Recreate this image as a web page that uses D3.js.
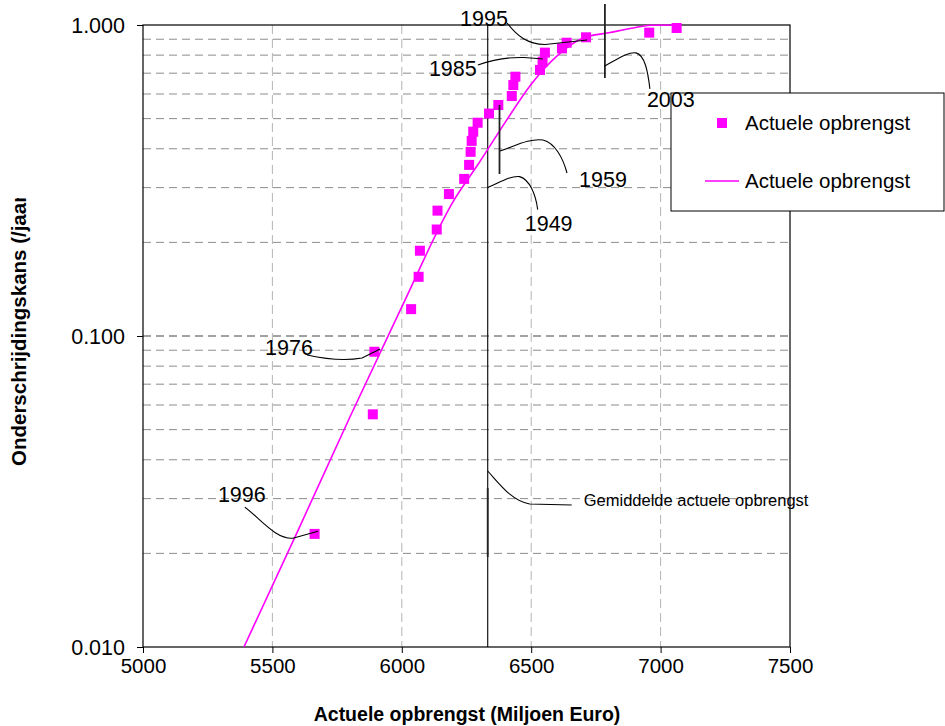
<!DOCTYPE html>
<html><head><meta charset="utf-8">
<script src="https://cdn.jsdelivr.net/npm/d3@7"></script>
<style>
body{margin:0;background:#fff}
svg{display:block}
text{font-family:"Liberation Sans",Arial,Helvetica,sans-serif;fill:#000}
</style>
</head><body>
<svg id="chart" width="945" height="726"></svg>
<script>
// Observed yearly revenue (million euro) and its non-exceedance probability
const opbrengst = [7062, 6956, 6712, 6637, 6619, 6553, 6544, 6534, 6439, 6431, 6425, 6373, 6337, 6293,
                   6276, 6270, 6266, 6260, 6241, 6182, 6138, 6135, 6070, 6065, 6036, 5894, 5888, 5663];
const kans = [0.978, 0.945, 0.913, 0.877, 0.841, 0.815, 0.762, 0.717, 0.682, 0.641, 0.591, 0.553, 0.519, 0.485,
              0.454, 0.424, 0.391, 0.355, 0.320, 0.286, 0.253, 0.220, 0.188, 0.155, 0.122, 0.089, 0.056, 0.0231];
// Fitted distribution curve
const lijnOpbrengst = [5390, 5600, 5800, 6000, 6200, 6300, 6400, 6500, 6600, 6700, 6800, 6900, 6960, 7080];
const lijnKans = [0.0100, 0.0238, 0.0550, 0.124, 0.272, 0.362, 0.487, 0.645, 0.796, 0.909, 0.944, 0.980, 0.998, 1.000];
// Mean revenue
const gemiddelde = 6332;
// Axis ticks
const xTicks = [5000, 5500, 6000, 6500, 7000, 7500];
const yTicks = [0.01, 0.1, 1];
const yTickLabels = ["0.010", "0.100", "1.000"];
const seriesNaam = "Actuele opbrengst";

const svg = d3.select("#chart");
const M = { left: 143, right: 790, top: 25, bottom: 647 };
const x = d3.scaleLinear().domain([5000, 7500]).range([M.left, M.right]);
const y = d3.scaleLog().domain([0.01, 1]).range([M.bottom, M.top]);
const magenta = "#ff00ff";

// minor horizontal gridlines (2..9 per decade)
const minor = [];
for (const dec of [0.01, 0.1]) for (let k = 2; k <= 9; k++) minor.push(dec * k);
const grid = svg.append("g");
grid.selectAll("line.hmin").data(minor).join("line")
  .attr("x1", M.left).attr("x2", M.right)
  .attr("y1", d => y(d)).attr("y2", d => y(d))
  .attr("stroke", "#8c8c8c").attr("stroke-width", 1).attr("stroke-dasharray", "8,5");
grid.append("line")
  .attr("x1", M.left).attr("x2", M.right).attr("y1", y(0.1)).attr("y2", y(0.1))
  .attr("stroke", "#444").attr("stroke-width", 1).attr("stroke-dasharray", "8,5");
grid.selectAll("line.v").data(xTicks.slice(1, -1)).join("line")
  .attr("x1", d => x(d)).attr("x2", d => x(d)).attr("y1", M.top).attr("y2", M.bottom)
  .attr("stroke", "#b4b4b4").attr("stroke-width", 1).attr("stroke-dasharray", "9,5");

// plot frame
svg.append("rect").attr("x", M.left).attr("y", M.top).attr("width", M.right - M.left).attr("height", M.bottom - M.top)
  .attr("fill", "none").attr("stroke", "#000").attr("stroke-width", 1.2);

// axes
const xAxis = svg.append("g").attr("transform", `translate(0,${M.bottom})`)
  .call(d3.axisBottom(x).tickValues(xTicks).tickSize(6).tickPadding(5).tickFormat(d3.format("d")));
xAxis.select(".domain").remove();
xAxis.selectAll("text").attr("font-size", 20.5).attr("font-family", "Liberation Sans, Arial, sans-serif");
xAxis.selectAll("line").attr("stroke", "#000");

const yAxis = svg.append("g").attr("transform", `translate(${M.left},0)`)
  .call(d3.axisLeft(y).tickValues(yTicks).tickSize(6).tickPadding(12)
        .tickFormat(d => yTickLabels[yTicks.indexOf(d)]));
yAxis.select(".domain").remove();
yAxis.selectAll("text").attr("font-size", 21.5).attr("font-family", "Liberation Sans, Arial, sans-serif")
  .attr("dy", "0.36em");
yAxis.selectAll("line").attr("stroke", "#000");

// axis titles
svg.append("text").attr("x", 467).attr("y", 721).attr("text-anchor", "middle")
  .attr("font-size", 19.5).attr("font-weight", "bold").text("Actuele opbrengst (Miljoen Euro)");
svg.append("clipPath").attr("id", "ytitle-clip").append("rect")
  .attr("x", 0).attr("y", 198).attr("width", 140).attr("height", 528);
svg.append("g").attr("clip-path", "url(#ytitle-clip)")
  .append("text")
  .attr("transform", "translate(26,466) rotate(-90)")
  .attr("font-size", 20.5).attr("font-weight", "bold").text("Onderschrijdingskans (/jaar)");

// mean line
svg.append("line").attr("x1", x(gemiddelde)).attr("x2", x(gemiddelde)).attr("y1", M.top).attr("y2", M.bottom)
  .attr("stroke", "#000").attr("stroke-width", 1.1);

// fitted curve
const lijn = lijnOpbrengst.map((v, i) => [v, lijnKans[i]]);
svg.append("path").datum(lijn)
  .attr("fill", "none").attr("stroke", magenta).attr("stroke-width", 1.6)
  .attr("d", d3.line().x(d => x(d[0])).y(d => y(d[1])).curve(d3.curveMonotoneX));

// observations
const obs = opbrengst.map((v, i) => [v, kans[i]]);
svg.append("g").selectAll("rect").data(obs).join("rect")
  .attr("x", d => x(d[0]) - 5).attr("y", d => y(d[1]) - 5)
  .attr("width", 10).attr("height", 10).attr("fill", magenta);

// legend
const lg = svg.append("g");
lg.append("rect").attr("x", 671).attr("y", 93).attr("width", 273).attr("height", 118)
  .attr("fill", "#fff").attr("stroke", "#000").attr("stroke-width", 1);
lg.append("rect").attr("x", 717).attr("y", 118).attr("width", 10).attr("height", 10).attr("fill", magenta);
lg.append("text").attr("x", 745).attr("y", 130).attr("font-size", 20.5).text(seriesNaam);
lg.append("line").attr("x1", 705).attr("x2", 739).attr("y1", 181).attr("y2", 181)
  .attr("stroke", magenta).attr("stroke-width", 1.6);
lg.append("text").attr("x", 745).attr("y", 188).attr("font-size", 20.5).text(seriesNaam);

// callouts: leader geometry is given relative to the anchor in pixels
function shape(ax, ay, segs) {
  return segs.map(s => s[0] + s.slice(1).map((v, i) => (i % 2 === 0 ? ax + v : ay + v).toFixed(1)).join(",")).join(" ");
}
const callouts = [
  { text: "1995", idx: 2, tx: -126, ty: -11.3,
    lead: [["M", -79, -14.3], ["C", -69, -1.3, -59, 6.7, -41, 7.2], ["L", 1, 2.7]] },
  { text: "1985", idx: 6, tx: -113.7, ty: 14.3,
    lead: [["M", -64.7, 3.3], ["C", -50.7, -1.7, -34.7, -4.7, -18.7, -4.2], ["C", -10.7, -3.7, -4.7, -3.2, 0.3, -2.7]] },
  { text: "2003", idx: 1, tx: -2.3, ty: 74.3,
    bar: [["M", -44.3, -28.7], ["L", -44.3, 45.3]],
    lead: [["M", -44.3, 33.3], ["C", -31.3, 26.3, -21.3, 19.3, -13.3, 20.3], ["C", -4.3, 22.3, -1.3, 39.3, 0.7, 56.3]] },
  { text: "1959", idx: 11, tx: 80.7, ty: 82,
    bar: [["M", 1.2, 0], ["L", 1.2, 69]],
    lead: [["M", 1.7, 46], ["C", 16.7, 41, 31.7, 33, 44.7, 35], ["C", 56.7, 38, 64.7, 53, 68.7, 68]] },
  { text: "1949", at: [gemiddelde, 0.30], tx: 37, ty: 43,
    lead: [["M", 0, 0], ["C", 12, -5, 22, -12, 32, -11], ["C", 42, -8, 48, 7, 50, 22]] },
  { text: "1976", idx: 25, tx: -109.3, ty: 3.3,
    lead: [["M", -67.3, 3.3], ["C", -49.3, 7.3, -29.3, 9.3, -12.3, 6.3], ["L", 5.7, -2.7]] },
  { text: "1996", idx: 27, tx: -96.7, ty: -31.7,
    lead: [["M", -69.7, -26.7], ["C", -52.7, -13.7, -38.7, 5.3, -21.7, 4.3], ["L", 3.3, -2.7]] },
  { text: "Gemiddelde actuele opbrengst", at: [gemiddelde, 0.0368], tx: 96, ty: 35, small: true,
    bar: [["M", 0, 17], ["L", 0, 86]],
    lead: [["M", 0, 0], ["C", 12, 13, 24, 30, 42, 33], ["L", 84, 34]] }
];
const cg = svg.append("g");
callouts.forEach(c => {
  const a = c.at ? c.at : obs[c.idx];
  const ax = x(a[0]), ay = y(a[1]);
  if (c.bar) cg.append("path").attr("d", shape(ax, ay, c.bar))
    .attr("fill", "none").attr("stroke", "#222").attr("stroke-width", 1.8);
  cg.append("path").attr("d", shape(ax, ay, c.lead))
    .attr("fill", "none").attr("stroke", "#000").attr("stroke-width", 1.1);
  cg.append("text").attr("x", ax + c.tx).attr("y", ay + c.ty)
    .attr("font-size", c.small ? 16.5 : 21.5).text(c.text);
});
</script>
</body></html>
